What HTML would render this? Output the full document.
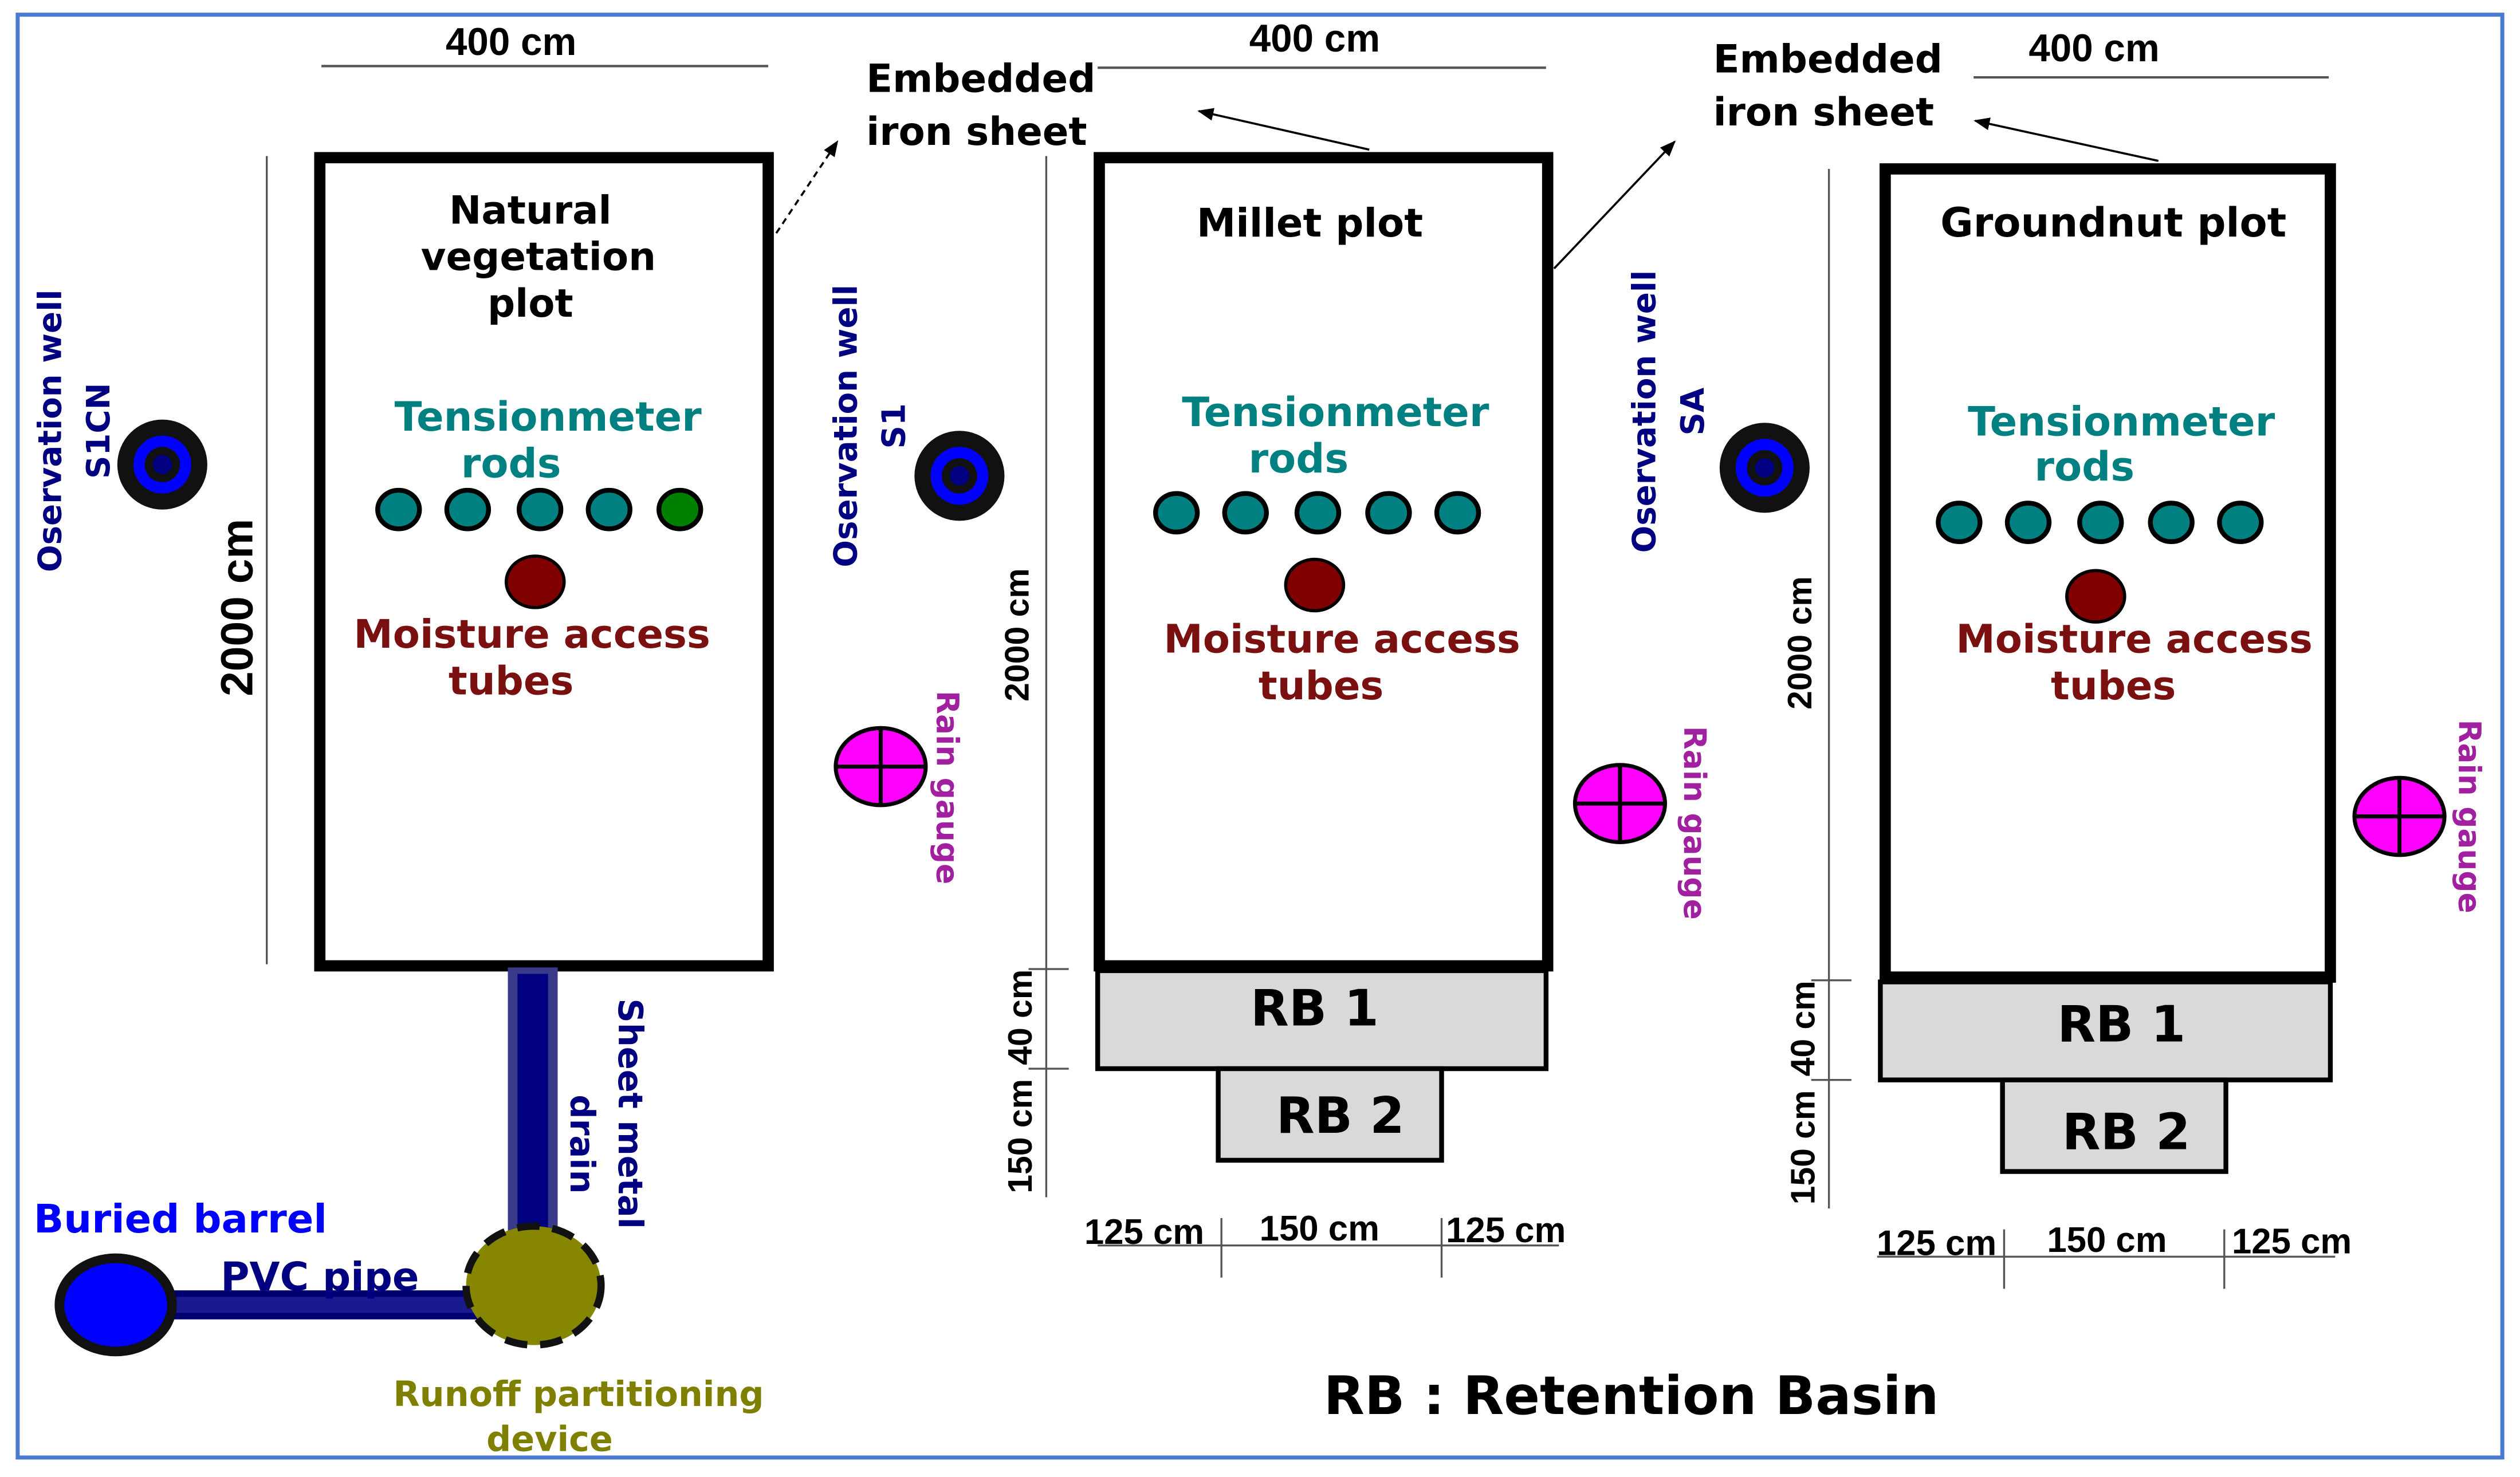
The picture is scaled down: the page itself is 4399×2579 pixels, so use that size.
<!DOCTYPE html>
<html><head><meta charset="utf-8"><style>html,body{margin:0;padding:0;background:#fff}svg{display:block}</style></head><body>
<svg xmlns="http://www.w3.org/2000/svg" width="4399" height="2579" viewBox="0 0 1568 919">
<defs><marker id="ah" markerWidth="10" markerHeight="8" refX="9" refY="4" orient="auto" markerUnits="userSpaceOnUse"><path d="M0,0 L10,4 L0,8 z" fill="#000"/></marker></defs>
<rect x="0" y="0" width="1568" height="919" fill="#fff"/>
<rect x="11" y="9" width="1546" height="898" fill="none" stroke="#4a7bd0" stroke-width="2.5"/>
<g font-family="Liberation Sans, sans-serif" font-weight="bold" fill="#000">
<text x="318" y="34" font-size="24" text-anchor="middle">400 cm</text>
<line x1="200" y1="41" x2="478" y2="41" stroke="#555" stroke-width="1.5"/>
<text x="818" y="32" font-size="24" text-anchor="middle">400 cm</text>
<line x1="683" y1="42" x2="962" y2="42" stroke="#555" stroke-width="1.5"/>
<text x="1303" y="38" font-size="24" text-anchor="middle">400 cm</text>
<line x1="1228" y1="48" x2="1449" y2="48" stroke="#555" stroke-width="1.5"/>
<line x1="166" y1="97" x2="166" y2="600" stroke="#555" stroke-width="1.2"/>
<text transform="translate(157,378) rotate(-90)" font-size="28" text-anchor="middle">2000 cm</text>
<line x1="651" y1="97" x2="651" y2="745" stroke="#555" stroke-width="1.2"/>
<text transform="translate(640,395) rotate(-90)" font-size="21" text-anchor="middle">2000 cm</text>
<line x1="1138" y1="105" x2="1138" y2="752" stroke="#555" stroke-width="1.2"/>
<text transform="translate(1127,400) rotate(-90)" font-size="21" text-anchor="middle">2000 cm</text>
<line x1="640" y1="603" x2="665" y2="603" stroke="#555" stroke-width="1.2"/>
<line x1="640" y1="665" x2="665" y2="665" stroke="#555" stroke-width="1.2"/>
<text transform="translate(642,633) rotate(-90)" font-size="21" text-anchor="middle">40 cm</text>
<text transform="translate(642,707) rotate(-90)" font-size="21" text-anchor="middle">150 cm</text>
<line x1="1127" y1="610" x2="1152" y2="610" stroke="#555" stroke-width="1.2"/>
<line x1="1127" y1="672" x2="1152" y2="672" stroke="#555" stroke-width="1.2"/>
<text transform="translate(1129,640) rotate(-90)" font-size="21" text-anchor="middle">40 cm</text>
<text transform="translate(1129,714) rotate(-90)" font-size="21" text-anchor="middle">150 cm</text>
<line x1="683" y1="775" x2="970" y2="775" stroke="#555" stroke-width="1.2"/>
<line x1="760" y1="758" x2="760" y2="795" stroke="#555" stroke-width="1.2"/>
<line x1="897" y1="758" x2="897" y2="795" stroke="#555" stroke-width="1.2"/>
<text x="712" y="774" font-size="22" text-anchor="middle">125 cm</text>
<text x="821" y="772" font-size="22" text-anchor="middle">150 cm</text>
<text x="937" y="773" font-size="22" text-anchor="middle">125 cm</text>
<line x1="1168" y1="782" x2="1453" y2="782" stroke="#555" stroke-width="1.2"/>
<line x1="1247" y1="765" x2="1247" y2="802" stroke="#555" stroke-width="1.2"/>
<line x1="1384" y1="765" x2="1384" y2="802" stroke="#555" stroke-width="1.2"/>
<text x="1205" y="781" font-size="22" text-anchor="middle">125 cm</text>
<text x="1311" y="779" font-size="22" text-anchor="middle">150 cm</text>
<text x="1426" y="780" font-size="22" text-anchor="middle">125 cm</text>
</g>
<rect x="199" y="98" width="279" height="503" fill="none" stroke="#000" stroke-width="7"/>
<rect x="684" y="98" width="279" height="503" fill="none" stroke="#000" stroke-width="7"/>
<rect x="1173" y="105" width="277" height="503" fill="none" stroke="#000" stroke-width="7"/>
<rect x="683" y="604" width="279" height="61" fill="#d9d9dc" stroke="#000" stroke-width="3"/>
<rect x="758" y="665" width="139" height="57" fill="#d9d9dc" stroke="#000" stroke-width="3"/>
<rect x="1170" y="611" width="280" height="61" fill="#d9d9dc" stroke="#000" stroke-width="3"/>
<rect x="1246" y="672" width="139" height="57" fill="#d9d9dc" stroke="#000" stroke-width="3"/>
<g font-family="DejaVu Sans, sans-serif" font-weight="bold" text-anchor="middle">
<text x="818" y="638" font-size="31">RB 1</text>
<text x="834" y="705" font-size="31">RB 2</text>
<text x="1320" y="648" font-size="31">RB 1</text>
<text x="1323" y="715" font-size="31">RB 2</text>
<text x="1015" y="880" font-size="33">RB : Retention Basin</text>
</g>
<g font-family="DejaVu Sans, sans-serif" font-weight="bold" font-size="24" text-anchor="middle" fill="#000">
<text x="330" y="139">Natural</text>
<text x="335" y="168">vegetation</text>
<text x="330" y="197">plot</text>
<text x="815" y="147" font-size="24.5">Millet plot</text>
<text x="1315" y="147" font-size="25">Groundnut plot</text>
</g>
<g font-family="DejaVu Sans, sans-serif" font-weight="bold" font-size="25" text-anchor="middle" fill="#008080">
<text x="341" y="268">Tensionmeter</text><text x="318" y="297">rods</text>
<text x="831" y="265">Tensionmeter</text><text x="808" y="294">rods</text>
<text x="1320" y="271">Tensionmeter</text><text x="1297" y="299">rods</text>
</g>
<g font-family="DejaVu Sans, sans-serif" font-weight="bold" font-size="24.5" text-anchor="middle" fill="#7b1010">
<text x="331" y="403">Moisture access</text><text x="318" y="432">tubes</text>
<text x="835" y="406">Moisture access</text><text x="822" y="435">tubes</text>
<text x="1328" y="406">Moisture access</text><text x="1315" y="435">tubes</text>
</g>
<g stroke="#000" stroke-width="3" fill="#008080">
<ellipse cx="248" cy="317" rx="13" ry="12"/><ellipse cx="291" cy="317" rx="13" ry="12"/><ellipse cx="336" cy="317" rx="13" ry="12"/><ellipse cx="379" cy="317" rx="13" ry="12"/><ellipse cx="423" cy="317" rx="13" ry="12" fill="#008000"/>
<ellipse cx="732" cy="319" rx="13" ry="12"/><ellipse cx="775" cy="319" rx="13" ry="12"/><ellipse cx="820" cy="319" rx="13" ry="12"/><ellipse cx="864" cy="319" rx="13" ry="12"/><ellipse cx="907" cy="319" rx="13" ry="12"/>
<ellipse cx="1219" cy="325" rx="13" ry="12"/><ellipse cx="1262" cy="325" rx="13" ry="12"/><ellipse cx="1307" cy="325" rx="13" ry="12"/><ellipse cx="1351" cy="325" rx="13" ry="12"/><ellipse cx="1394" cy="325" rx="13" ry="12"/>
</g>
<g stroke="#000" stroke-width="2" fill="#800000">
<ellipse cx="333" cy="362" rx="18" ry="16"/><ellipse cx="818" cy="364" rx="18" ry="16"/><ellipse cx="1304" cy="371" rx="18" ry="16"/>
</g>
<g>
<ellipse cx="101" cy="289" rx="28" ry="28" fill="#111"/><ellipse cx="101" cy="289" rx="18" ry="18" fill="#0000ff"/><ellipse cx="101" cy="289" rx="11" ry="11" fill="#111"/><ellipse cx="101" cy="289" rx="6" ry="6" fill="#000080"/>
<ellipse cx="597" cy="296" rx="28" ry="28" fill="#111"/><ellipse cx="597" cy="296" rx="18" ry="18" fill="#0000ff"/><ellipse cx="597" cy="296" rx="11" ry="11" fill="#111"/><ellipse cx="597" cy="296" rx="6" ry="6" fill="#000080"/>
<ellipse cx="1098" cy="291" rx="28" ry="28" fill="#111"/><ellipse cx="1098" cy="291" rx="18" ry="18" fill="#0000ff"/><ellipse cx="1098" cy="291" rx="11" ry="11" fill="#111"/><ellipse cx="1098" cy="291" rx="6" ry="6" fill="#000080"/>
</g>
<g font-family="DejaVu Sans, sans-serif" font-weight="bold" font-size="20" text-anchor="middle" fill="#000080">
<text transform="translate(38,268) rotate(-90)">Oservation well</text><text transform="translate(68,268) rotate(-90)">S1CN</text>
<text transform="translate(533,265) rotate(-90)">Oservation well</text><text transform="translate(563,265) rotate(-90)">S1</text>
<text transform="translate(1030,256) rotate(-90)">Oservation well</text><text transform="translate(1060,256) rotate(-90)">SA</text>
</g>
<g stroke="#000" stroke-width="2.5">
<ellipse cx="548" cy="477" rx="28" ry="24" fill="#ff00ff"/><line x1="520" y1="477" x2="576" y2="477"/><line x1="548" y1="453" x2="548" y2="501"/>
<ellipse cx="1008" cy="500" rx="28" ry="24" fill="#ff00ff"/><line x1="980" y1="500" x2="1036" y2="500"/><line x1="1008" y1="476" x2="1008" y2="524"/>
<ellipse cx="1493" cy="508" rx="28" ry="24" fill="#ff00ff"/><line x1="1465" y1="508" x2="1521" y2="508"/><line x1="1493" y1="484" x2="1493" y2="532"/>
</g>
<g font-family="DejaVu Sans, sans-serif" font-weight="bold" font-size="19" text-anchor="middle" fill="#a020a0">
<text transform="translate(583,490) rotate(90)">Rain gauge</text>
<text transform="translate(1048,512) rotate(90)">Rain gauge</text>
<text transform="translate(1530,508) rotate(90)">Rain gauge</text>
</g>
<g font-family="DejaVu Sans, sans-serif" font-weight="bold" font-size="24" fill="#000">
<text x="539" y="57">Embedded</text><text x="539" y="90">iron sheet</text>
<text x="1066" y="45">Embedded</text><text x="1066" y="78">iron sheet</text>
</g>
<line x1="483" y1="145" x2="521" y2="88" stroke="#000" stroke-width="1.3" stroke-dasharray="4,3" marker-end="url(#ah)"/>
<line x1="852" y1="93" x2="746" y2="69" stroke="#000" stroke-width="1.3" marker-end="url(#ah)"/>
<line x1="967" y1="167" x2="1042" y2="88" stroke="#000" stroke-width="1.3" marker-end="url(#ah)"/>
<line x1="1343" y1="100" x2="1229" y2="75" stroke="#000" stroke-width="1.3" marker-end="url(#ah)"/>
<rect x="316" y="602" width="31" height="170" fill="#3a3a8a"/>
<rect x="322" y="606" width="19" height="166" fill="#000080"/>
<rect x="100" y="803" width="200" height="18" fill="#1a1a90"/>
<rect x="100" y="803" width="200" height="4" fill="#000070"/>
<rect x="100" y="817" width="200" height="4" fill="#000070"/>
<ellipse cx="72" cy="812" rx="35" ry="29" fill="#0000ff" stroke="#111" stroke-width="6"/>
<ellipse cx="332" cy="800" rx="42" ry="37" fill="#868600" stroke="#111" stroke-width="4.5" stroke-dasharray="14,8"/>
<g font-family="DejaVu Sans, sans-serif" font-weight="bold" font-size="21">
<text transform="translate(385,693) rotate(90)" text-anchor="middle" fill="#000080">Sheet metal</text>
<text transform="translate(355,712) rotate(90)" text-anchor="middle" fill="#000080">drain</text>
<text x="21" y="767" fill="#0000ff" font-size="24.5">Buried barrel</text>
<text x="199" y="803" text-anchor="middle" fill="#000080" font-size="24.5">PVC pipe</text>
<text x="360" y="875" text-anchor="middle" fill="#808000" font-size="21.5">Runoff partitioning</text>
<text x="342" y="903" text-anchor="middle" fill="#808000" font-size="21.5">device</text>
</g>
</svg>
</body></html>
